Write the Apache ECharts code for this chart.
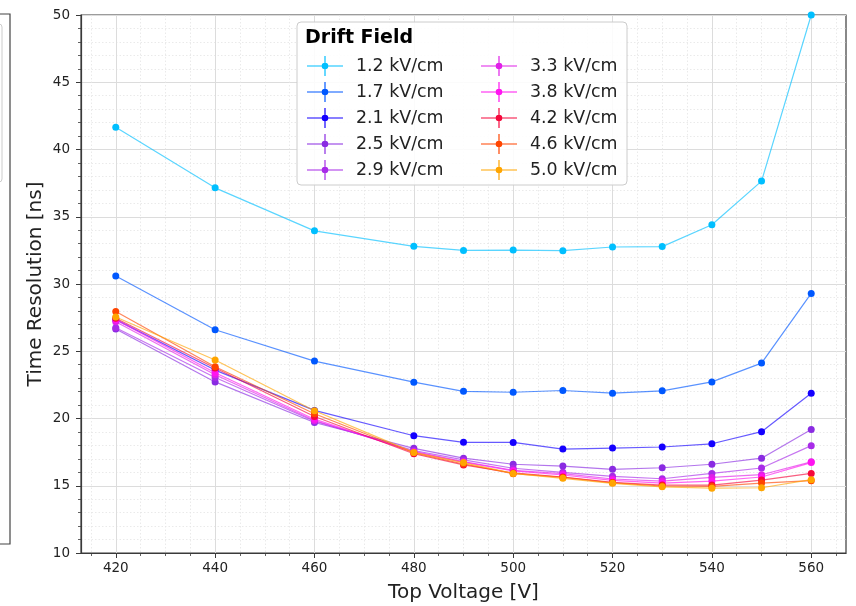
<!DOCTYPE html>
<html>
<head>
<meta charset="utf-8">
<script src="https://cdn.jsdelivr.net/npm/echarts@6/dist/echarts.min.js"></script>
<style>
  html, body { margin: 0; padding: 0; background: #ffffff; }
  #chart { width: 856px; height: 606px; }
</style>
</head>
<body>
<div id="chart"></div>
<script>
// Top voltage scan points [V]
const topVoltage = [420, 440, 460, 480, 490, 500, 510, 520, 530, 540, 550, 560];

// Time resolution [ns] per drift field
const field12 = [41.65, 37.15, 33.95, 32.80, 32.50, 32.52, 32.48, 32.75, 32.78, 34.40, 37.65, 50.0];
const field17 = [30.60, 26.60, 24.27, 22.70, 22.02, 21.95, 22.08, 21.88, 22.06, 22.72, 24.12, 29.30];
const field21 = [27.35, 23.60, 20.60, 18.72, 18.23, 18.22, 17.73, 17.80, 17.88, 18.12, 19.02, 21.88];
const field25 = [26.65, 22.72, 19.70, 17.78, 17.05, 16.60, 16.46, 16.22, 16.34, 16.60, 17.05, 19.18];
const field29 = [26.75, 23.05, 19.80, 17.62, 16.92, 16.30, 16.00, 15.70, 15.52, 15.92, 16.32, 17.98];
const field33 = [27.20, 23.25, 19.85, 17.55, 16.80, 16.15, 15.90, 15.50, 15.35, 15.62, 15.82, 16.78];
const field38 = [27.35, 23.40, 19.95, 17.50, 16.75, 16.10, 15.80, 15.40, 15.20, 15.35, 15.65, 16.72];
const field42 = [27.45, 23.75, 20.15, 17.38, 16.55, 15.95, 15.65, 15.25, 15.05, 15.05, 15.42, 15.92];
const field46 = [27.95, 23.85, 20.35, 17.45, 16.62, 15.90, 15.62, 15.22, 14.98, 14.95, 15.20, 15.38];
const field50 = [27.55, 24.35, 20.58, 17.48, 16.72, 15.92, 15.55, 15.18, 14.92, 14.82, 14.85, 15.45];

const fieldNames = ['1.2 kV/cm', '1.7 kV/cm', '2.1 kV/cm', '2.5 kV/cm', '2.9 kV/cm',
                    '3.3 kV/cm', '3.8 kV/cm', '4.2 kV/cm', '4.6 kV/cm', '5.0 kV/cm'];
const fieldValues = [field12, field17, field21, field25, field29,
                     field33, field38, field42, field46, field50];
const fieldColors = ['#00bfff', '#0058ff', '#1400ff', '#8a2be2', '#a82be8',
                     '#e020e8', '#ff14f0', '#f5083c', '#ff4500', '#ffa500'];

// Axis ticks
const xMajorTicks = [420, 440, 460, 480, 500, 520, 540, 560];
const xMinorTicks = [415, 425, 430, 435, 445, 450, 455, 465, 470, 475, 485, 490, 495,
                     505, 510, 515, 525, 530, 535, 545, 550, 555, 565];

const FONT = 'DejaVu Sans';
const ink = '#222222';
const frame = '#3a3a3a';

// errorbar-style legend handle: horizontal bar, vertical cap, centre dot
const handleIcon = 'path://M0,9.4H36V10.6H0Z M17.4,0H18.6V20H17.4Z M21.3,10A3.3,3.3 0 1 1 14.7,10A3.3,3.3 0 1 1 21.3,10Z';

const series = fieldNames.map((name, i) => ({
  name: name,
  type: 'line',
  xAxisIndex: 0,
  yAxisIndex: 0,
  data: topVoltage.map((v, j) => [v, fieldValues[i][j]]),
  symbol: 'circle',
  symbolSize: 7,
  showSymbol: true,
  clip: false,
  itemStyle: { color: fieldColors[i], opacity: 1 },
  lineStyle: { color: fieldColors[i], width: 1.2, opacity: 0.65 },
  emphasis: { disabled: true },
  z: 3 + i * 0.01
}));

function legendBlock(names, left) {
  return {
    show: true,
    orient: 'vertical',
    left: left,
    top: 56,
    padding: 0,
    itemGap: 6,
    itemWidth: 52,
    itemHeight: 20,
    symbolKeepAspect: true,
    icon: handleIcon,
    selectedMode: false,
    data: names.map(n => ({ name: n, icon: handleIcon })),
    textStyle: { fontFamily: FONT, fontSize: 17.4, color: ink },
    z: 12
  };
}

const option = {
  animation: false,
  backgroundColor: '#ffffff',
  textStyle: { fontFamily: FONT },
  grid: {
    left: 81, right: 10, top: 15, bottom: 53,
    show: true, borderColor: frame, borderWidth: 1.2,
    containLabel: false,
    outerBoundsMode: 'none'
  },
  xAxis: [
    {
      type: 'value',
      position: 'bottom',
      min: 413, max: 567,
      name: 'Top Voltage [V]',
      nameLocation: 'middle',
      nameGap: 30,
      nameMoveOverlap: false,
      nameTextStyle: { fontFamily: FONT, fontSize: 20, color: ink },
      axisLine: { show: true, onZero: false, lineStyle: { color: frame, width: 1.2 } },
      axisTick: { show: true, length: 5, customValues: xMajorTicks, lineStyle: { color: frame, width: 1 } },
      axisLabel: { show: true, customValues: xMajorTicks, fontFamily: FONT, fontSize: 13.5, color: ink, margin: 8 },
      splitLine: { show: true, lineStyle: { color: '#dcdcdc', width: 1 } },
      minorTick: { show: false },
      minorSplitLine: { show: false }
    },
    {
      type: 'value',
      position: 'bottom',
      min: 413, max: 567,
      axisLine: { show: false, onZero: false },
      axisTick: { show: true, length: 3, customValues: xMinorTicks, lineStyle: { color: frame, width: 0.8 } },
      axisLabel: { show: false },
      splitLine: { show: true, lineStyle: { color: '#e4e4e4', width: 0.8, type: [1.5, 2] } }
    }
  ],
  yAxis: {
    type: 'value',
    min: 10, max: 50, interval: 5,
    name: 'Time Resolution [ns]',
    nameLocation: 'middle',
    nameGap: 35,
    nameMoveOverlap: false,
    nameTextStyle: { fontFamily: FONT, fontSize: 20, color: ink },
    axisLine: { show: true, onZero: false, lineStyle: { color: frame, width: 1.2 } },
    axisTick: { show: true, length: 5, lineStyle: { color: frame, width: 1 } },
    axisLabel: { fontFamily: FONT, fontSize: 13.5, color: ink, margin: 11 },
    splitLine: { show: true, lineStyle: { color: '#dcdcdc', width: 1 } },
    minorTick: { show: true, splitNumber: 5, length: 3, lineStyle: { color: frame, width: 0.8 } },
    minorSplitLine: { show: true, lineStyle: { color: '#e4e4e4', width: 0.8, type: [1.5, 2] } }
  },
  legend: [
    legendBlock(fieldNames.slice(0, 5), 307),
    legendBlock(fieldNames.slice(5), 481)
  ],
  graphic: [
    // edge of the neighbouring panel
    { type: 'rect', z: 1, shape: { x: -6, y: 14, width: 16, height: 530 },
      style: { fill: 'none', stroke: '#444444', lineWidth: 1.2 } },
    { type: 'rect', z: 1, shape: { x: -10, y: 24, width: 12, height: 158, r: 3 },
      style: { fill: 'none', stroke: '#cccccc', lineWidth: 1 } },
    // legend frame and title
    { type: 'rect', z: 10, shape: { x: 297, y: 22, width: 330, height: 163, r: 4 },
      style: { fill: 'rgba(255,255,255,0.88)', stroke: '#cccccc', lineWidth: 1 } },
    { type: 'text', z: 11, x: 305, y: 38,
      style: { text: 'Drift Field', fontFamily: FONT, fontSize: 19, fontWeight: 'bold',
               fill: '#000000', verticalAlign: 'middle' } }
  ],
  series: series
};

const chart = echarts.init(document.getElementById('chart'), null, { renderer: 'canvas' });
chart.setOption(option);
</script>
</body>
</html>
